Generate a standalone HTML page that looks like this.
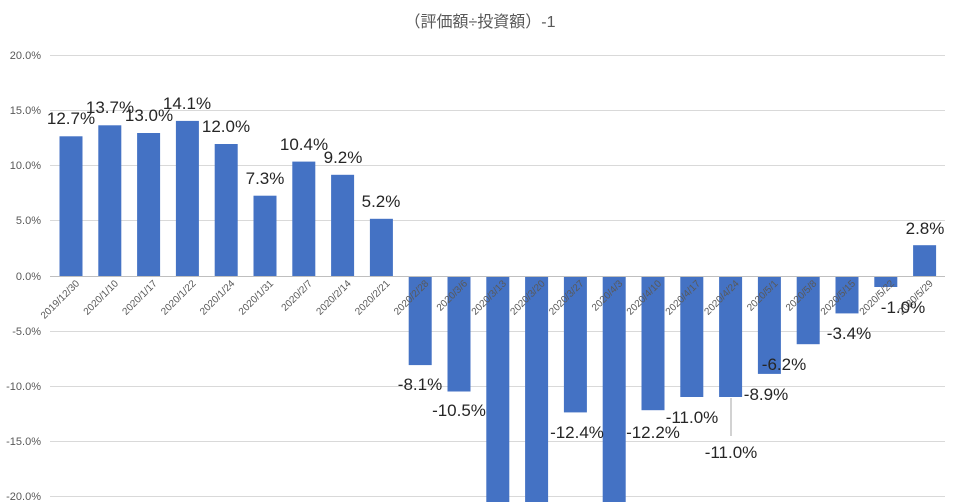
<!DOCTYPE html>
<html><head><meta charset="utf-8"><style>
body{margin:0;background:#fff}
svg{display:block;font-family:"Liberation Sans","Noto Sans CJK JP",sans-serif}
</style></head><body>
<svg width="960" height="502" viewBox="0 0 960 502">
<text x="480" y="27" text-anchor="middle" font-size="16" fill="#595959">（評価額÷投資額）-1</text>
<g stroke="#d9d9d9" stroke-width="1">
<line x1="50" x2="945" y1="55.5" y2="55.5"/><line x1="50" x2="945" y1="110.5" y2="110.5"/>
<line x1="50" x2="945" y1="165.5" y2="165.5"/><line x1="50" x2="945" y1="220.5" y2="220.5"/>
<line x1="50" x2="945" y1="331.5" y2="331.5"/><line x1="50" x2="945" y1="386.5" y2="386.5"/>
<line x1="50" x2="945" y1="441.5" y2="441.5"/><line x1="50" x2="945" y1="496.5" y2="496.5"/>
</g>
<g font-size="11" fill="#595959" text-anchor="end">
<text x="41" y="59">20.0%</text><text x="41" y="114">15.0%</text><text x="41" y="169">10.0%</text>
<text x="41" y="224">5.0%</text><text x="41" y="280">0.0%</text><text x="41" y="335">-5.0%</text>
<text x="41" y="390">-10.0%</text><text x="41" y="445">-15.0%</text><text x="41" y="500">-20.0%</text>
</g>
<g fill="#4472c4">
<rect x="59.5" y="136.3" width="23" height="139.7"/>
<rect x="98.3" y="125.3" width="23" height="150.7"/>
<rect x="137.1" y="133" width="23" height="143"/>
<rect x="175.9" y="120.9" width="23" height="155.1"/>
<rect x="214.7" y="144" width="23" height="132"/>
<rect x="253.5" y="195.7" width="23" height="80.3"/>
<rect x="292.3" y="161.6" width="23" height="114.4"/>
<rect x="331.1" y="174.8" width="23" height="101.2"/>
<rect x="369.9" y="218.8" width="23" height="57.2"/>
<rect x="408.7" y="276" width="23" height="89.1"/>
<rect x="447.5" y="276" width="23" height="115.5"/>
<rect x="486.3" y="276" width="23" height="230"/>
<rect x="525.1" y="276" width="23" height="230"/>
<rect x="563.9" y="276" width="23" height="136.4"/>
<rect x="602.7" y="276" width="23" height="230"/>
<rect x="641.5" y="276" width="23" height="134.2"/>
<rect x="680.3" y="276" width="23" height="121"/>
<rect x="719.1" y="276" width="23" height="121"/>
<rect x="757.9" y="276" width="23" height="97.9"/>
<rect x="796.7" y="276" width="23" height="68.2"/>
<rect x="835.5" y="276" width="23" height="37.4"/>
<rect x="874.3" y="276" width="23" height="11"/>
<rect x="913.1" y="245.2" width="23" height="30.8"/>
</g>
<line x1="50" x2="945" y1="276.5" y2="276.5" stroke="#bfbfbf"/>
<g font-size="10" fill="#595959" text-anchor="end">
<text transform="translate(80,284) rotate(-45)">2019/12/30</text>
<text transform="translate(118.8,284) rotate(-45)">2020/1/10</text>
<text transform="translate(157.6,284) rotate(-45)">2020/1/17</text>
<text transform="translate(196.4,284) rotate(-45)">2020/1/22</text>
<text transform="translate(235.2,284) rotate(-45)">2020/1/24</text>
<text transform="translate(274,284) rotate(-45)">2020/1/31</text>
<text transform="translate(312.8,284) rotate(-45)">2020/2/7</text>
<text transform="translate(351.6,284) rotate(-45)">2020/2/14</text>
<text transform="translate(390.4,284) rotate(-45)">2020/2/21</text>
<text transform="translate(429.2,284) rotate(-45)">2020/2/28</text>
<text transform="translate(468,284) rotate(-45)">2020/3/6</text>
<text transform="translate(506.8,284) rotate(-45)">2020/3/13</text>
<text transform="translate(545.6,284) rotate(-45)">2020/3/20</text>
<text transform="translate(584.4,284) rotate(-45)">2020/3/27</text>
<text transform="translate(623.2,284) rotate(-45)">2020/4/3</text>
<text transform="translate(662,284) rotate(-45)">2020/4/10</text>
<text transform="translate(700.8,284) rotate(-45)">2020/4/17</text>
<text transform="translate(739.6,284) rotate(-45)">2020/4/24</text>
<text transform="translate(778.4,284) rotate(-45)">2020/5/1</text>
<text transform="translate(817.2,284) rotate(-45)">2020/5/8</text>
<text transform="translate(856,284) rotate(-45)">2020/5/15</text>
<text transform="translate(894.8,284) rotate(-45)">2020/5/22</text>
<text transform="translate(933.6,284) rotate(-45)">2020/5/29</text>
</g>
<g font-size="17" fill="#262626" text-anchor="middle">
<text x="71" y="124">12.7%</text>
<text x="110" y="113">13.7%</text>
<text x="149" y="121">13.0%</text>
<text x="187" y="109">14.1%</text>
<text x="226" y="132">12.0%</text>
<text x="265" y="184">7.3%</text>
<text x="304" y="150">10.4%</text>
<text x="343" y="163">9.2%</text>
<text x="381" y="207">5.2%</text>
<text x="420" y="390">-8.1%</text>
<text x="459" y="416">-10.5%</text>
<text x="577" y="438">-12.4%</text>
<text x="653" y="438">-12.2%</text>
<text x="692" y="423">-11.0%</text>
<text x="731" y="458">-11.0%</text>
<text x="766" y="400">-8.9%</text>
<text x="784" y="370">-6.2%</text>
<text x="849" y="339">-3.4%</text>
<text x="903" y="313">-1.0%</text>
<text x="925" y="234">2.8%</text>
</g>
<line x1="731" x2="731" y1="398" y2="436" stroke="#a6a6a6"/>
</svg>
</body></html>
